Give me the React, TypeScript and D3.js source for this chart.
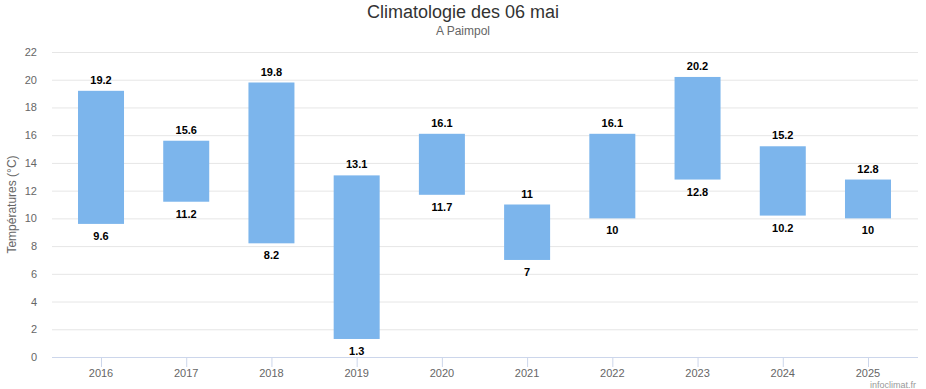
import React, { useEffect, useRef } from "react";
import * as d3 from "d3";

const years = ["2016", "2017", "2018", "2019", "2020", "2021", "2022", "2023", "2024", "2025"];
const tmin = [9.6, 11.2, 8.2, 1.3, 11.7, 7, 10, 12.8, 10.2, 10];
const tmax = [19.2, 15.6, 19.8, 13.1, 16.1, 11, 16.1, 20.2, 15.2, 12.8];
const yTicks = [0, 2, 4, 6, 8, 10, 12, 14, 16, 18, 20, 22];

const App = () => {
  const ref = useRef<SVGSVGElement>(null);

  useEffect(() => {
    const svg = d3.select(ref.current);
    svg.selectAll("*").remove();

    const width = 926, height = 389;
    const plotLeft = 52, plotRight = 918;
    const font = "Liberation Sans, Arial, sans-serif";

    const x = d3.scaleBand().domain(years).range([58.4, 910.6]);
    const y = d3.scaleLinear().domain([0, 22]).range([357, 52]);
    const barW = 46;

    svg.attr("width", width).attr("height", height).style("font-family", font);

    // Title
    svg.append("text")
      .attr("x", width / 2).attr("y", 18)
      .attr("text-anchor", "middle")
      .attr("font-size", 18).attr("fill", "#333")
      .text("Climatologie des 06 mai");
    svg.append("text")
      .attr("x", width / 2).attr("y", 35)
      .attr("text-anchor", "middle")
      .attr("font-size", 12).attr("fill", "#666")
      .text("A Paimpol");

    // Grid
    svg.append("g").selectAll("line")
      .data(yTicks.filter((d) => d > 0))
      .enter().append("line")
      .attr("x1", plotLeft).attr("x2", plotRight)
      .attr("y1", (d) => y(d) + 0.5).attr("y2", (d) => y(d) + 0.5)
      .attr("stroke", "#e6e6e6");

    // Y labels
    svg.append("g").selectAll("text")
      .data(yTicks)
      .enter().append("text")
      .attr("x", 37).attr("y", (d) => y(d) + 4)
      .attr("text-anchor", "end")
      .attr("font-size", 11).attr("fill", "#666")
      .text((d) => d);

    svg.append("text")
      .attr("transform", `translate(16,${(y(0) + y(22)) / 2}) rotate(-90)`)
      .attr("text-anchor", "middle")
      .attr("font-size", 12).attr("fill", "#666")
      .text("Températures (°C)");

    // X axis
    svg.append("line")
      .attr("x1", plotLeft).attr("x2", plotRight)
      .attr("y1", y(0) + 0.5).attr("y2", y(0) + 0.5)
      .attr("stroke", "#ccd6eb");
    const xc = (d: string) => x(d)! + x.bandwidth() / 2;
    svg.append("g").selectAll("line")
      .data(years)
      .enter().append("line")
      .attr("x1", (d) => xc(d) + 0.5).attr("x2", (d) => xc(d) + 0.5)
      .attr("y1", y(0)).attr("y2", y(0) + 10)
      .attr("stroke", "#ccd6eb");
    svg.append("g").selectAll("text")
      .data(years)
      .enter().append("text")
      .attr("x", (d) => xc(d)).attr("y", y(0) + 20)
      .attr("text-anchor", "middle")
      .attr("font-size", 11).attr("fill", "#666")
      .text((d) => d);

    // Bars
    const rows = years.map((yr, i) => ({ yr, lo: tmin[i], hi: tmax[i] }));
    svg.append("g").selectAll("rect")
      .data(rows)
      .enter().append("rect")
      .attr("x", (d) => xc(d.yr) - barW / 2)
      .attr("y", (d) => y(d.hi))
      .attr("width", barW)
      .attr("height", (d) => y(d.lo) - y(d.hi))
      .attr("fill", "#7cb5ec");

    const labels = svg.append("g")
      .attr("font-size", 11).attr("font-weight", "bold").attr("fill", "#000")
      .attr("text-anchor", "middle");
    labels.selectAll(".hi")
      .data(rows)
      .enter().append("text")
      .attr("x", (d) => xc(d.yr)).attr("y", (d) => y(d.hi) - 7)
      .text((d) => d.hi);
    labels.selectAll(".lo")
      .data(rows)
      .enter().append("text")
      .attr("x", (d) => xc(d.yr)).attr("y", (d) => y(d.lo) + 16)
      .text((d) => d.lo);

    // Credits
    svg.append("text")
      .attr("x", 916).attr("y", 388)
      .attr("text-anchor", "end")
      .attr("font-size", 9).attr("fill", "#999")
      .text("infoclimat.fr");
  }, []);

  return <svg ref={ref} style={{ display: "block", position: "absolute", left: 0, top: 0 }} />;
};

export default App;
